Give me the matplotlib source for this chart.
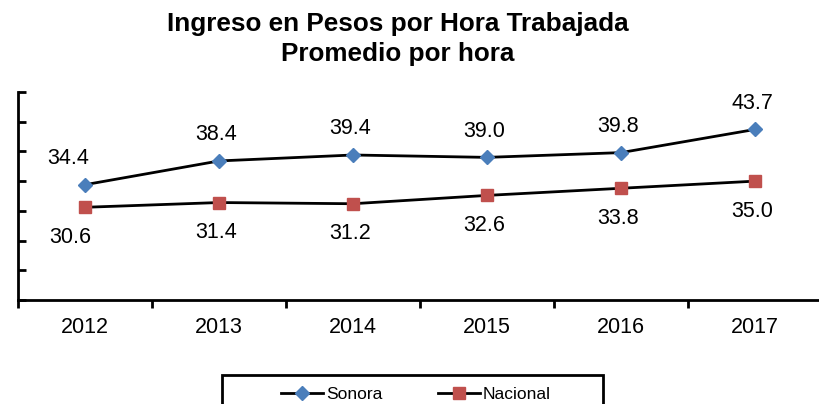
import matplotlib
matplotlib.use("Agg")
import matplotlib.pyplot as plt
from matplotlib.patches import Rectangle
from matplotlib.lines import Line2D

plt.rcParams['font.family'] = ['Liberation Sans', 'DejaVu Sans']

years = ["2012", "2013", "2014", "2015", "2016", "2017"]
sonora = [34.4, 38.4, 39.4, 39.0, 39.8, 43.7]
nacional = [30.6, 31.4, 31.2, 32.6, 33.8, 35.0]
title = "Ingreso en Pesos por Hora Trabajada\nPromedio por hora"

fig = plt.figure(figsize=(8.19, 4.04), dpi=100)
ax = fig.add_axes([18/819, 1-300/404, (822-18)/819, (300-92)/404])

x = list(range(len(years)))
ax.plot(x, sonora, color='black', lw=2, marker='D', ms=7, mfc='#4a7ebb', mec='#4a7ebb', zorder=3)
ax.plot(x, nacional, color='black', lw=2, marker='s', ms=8.5, mfc='#c0504d', mec='#c0504d', zorder=3)

for i, v in enumerate(sonora):
    dx = -17 if i == 0 else -3
    ax.annotate(f"{v:.1f}", (i, v), xytext=(dx, 26), textcoords='offset pixels',
                ha='center', va='center', fontsize=15.5)
for i, v in enumerate(nacional):
    dx = -15 if i == 0 else -3
    ax.annotate(f"{v:.1f}", (i, v), xytext=(dx, -30), textcoords='offset pixels',
                ha='center', va='center', fontsize=15.5)

ax.set_xlim(-0.5, 5.5)
ax.set_ylim(15, 50)
ax.set_yticks(range(15, 51, 5))
ax.set_yticklabels([])
ax.tick_params(axis='y', direction='in', length=6, width=2, left=True)
ax.set_xticks(x)
ax.set_xticklabels(years, fontsize=15.5)
ax.tick_params(axis='x', length=0, pad=12)
ax.set_xticks([i + 0.5 for i in range(-1, 6)], minor=True)
ax.tick_params(axis='x', which='minor', direction='out', length=6, width=2)
for s in ['top', 'right']:
    ax.spines[s].set_visible(False)
for s in ['left', 'bottom']:
    ax.spines[s].set_linewidth(2)

fig.text(398/819, 1-39/404, title, ha='center', va='center', fontsize=18.8,
         fontweight='bold', linespacing=1.3)

leg = fig.legend(handles=[
    Line2D([], [], color='black', lw=2, marker='D', ms=7, mfc='#4a7ebb', mec='#4a7ebb', label='Sonora'),
    Line2D([], [], color='black', lw=2, marker='s', ms=8, mfc='#c0504d', mec='#c0504d', label='Nacional')],
    loc='upper center', bbox_to_anchor=(416/819, 1-371/404), ncol=2, frameon=False,
    fontsize=12.5, handlelength=2.4, columnspacing=3.2, handletextpad=0.2)

fig.patches.append(Rectangle((222/819, -0.05), (603-222)/819, (1-375/404)+0.05,
                             transform=fig.transFigure, fill=False, ec='black', lw=2))

fig.savefig("out.png", dpi=100)
